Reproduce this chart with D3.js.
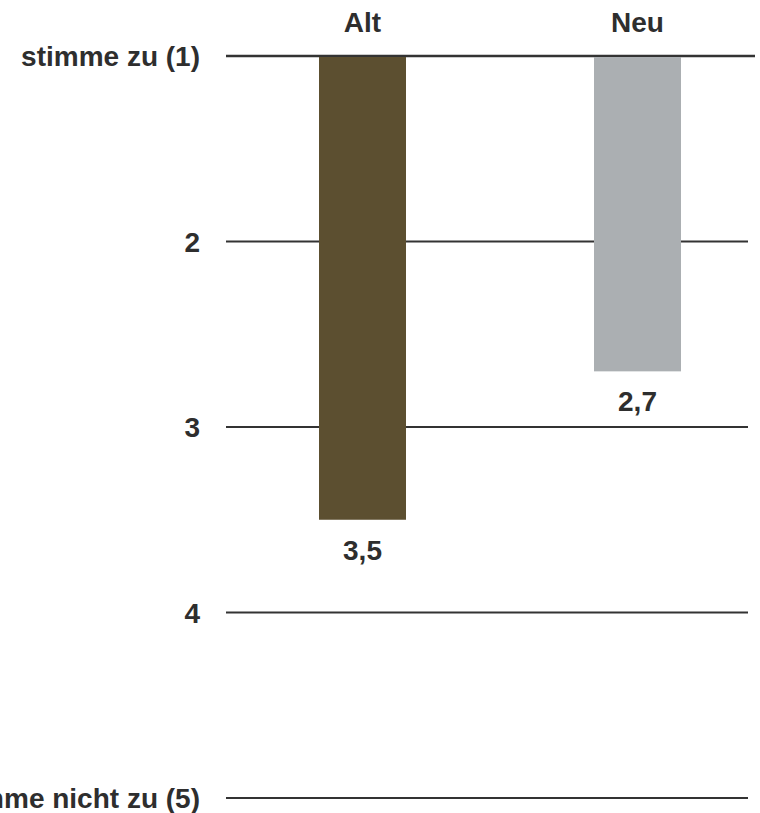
<!DOCTYPE html>
<html>
<head>
<meta charset="utf-8">
<script src="https://cdn.jsdelivr.net/npm/d3@7"></script>
<style>
  html, body { margin: 0; padding: 0; background: #fff; }
  svg { display: block; }
  text { font-family: "Liberation Sans", Arial, sans-serif; font-weight: bold; fill: #2e2e2e; }
</style>
</head>
<body>
<svg id="chart" width="760" height="813"></svg>
<script>
// Agreement scale: 1 = stimme zu, 5 = stimme nicht zu
const categories = ["Alt", "Neu"];
const values = [3.5, 2.7];
const valueLabels = ["3,5", "2,7"];
const colors = ["#5c4f30", "#abafb2"];
const tickValues = [1, 2, 3, 4, 5];
const tickLabels = ["stimme zu (1)", "2", "3", "4", "stimme nicht zu (5)"];

const svg = d3.select("#chart");
const fontSize = 28;

const y = d3.scaleLinear().domain([1, 5]).range([56, 798]);
const x = d3.scalePoint().domain(categories).range([225, 775]).padding(0.5);
const barWidth = 87;
const lineLeft = 226, lineRight = 748;

// Horizontal rules for each scale step
svg.append("g").selectAll("line")
  .data(tickValues)
  .join("line")
  .attr("x1", lineLeft)
  .attr("x2", (d, i) => i === 0 ? 755 : lineRight)
  .attr("y1", d => y(d))
  .attr("y2", d => y(d))
  .attr("stroke", "#333")
  .attr("stroke-width", (d, i) => i === 0 ? 2.6 : 2);

// Scale labels on the left
svg.append("g").selectAll("text")
  .data(tickValues)
  .join("text")
  .attr("x", 200)
  .attr("y", d => y(d) + 10)
  .attr("text-anchor", "end")
  .attr("font-size", fontSize)
  .text((d, i) => tickLabels[i]);

// Bars hanging from the top of the scale
svg.append("g").selectAll("rect")
  .data(categories)
  .join("rect")
  .attr("x", d => x(d) - barWidth / 2)
  .attr("y", y(1) + 1)
  .attr("width", barWidth)
  .attr("height", (d, i) => y(values[i]) - y(1) - 1)
  .attr("fill", (d, i) => colors[i]);

// Category headers
svg.append("g").selectAll("text")
  .data(categories)
  .join("text")
  .attr("x", d => x(d))
  .attr("y", 32)
  .attr("text-anchor", "middle")
  .attr("font-size", fontSize)
  .text(d => d);

// Value labels under each bar
svg.append("g").selectAll("text")
  .data(categories)
  .join("text")
  .attr("x", d => x(d))
  .attr("y", (d, i) => y(values[i]) + 40)
  .attr("text-anchor", "middle")
  .attr("font-size", fontSize)
  .text((d, i) => valueLabels[i]);
</script>
</body>
</html>
